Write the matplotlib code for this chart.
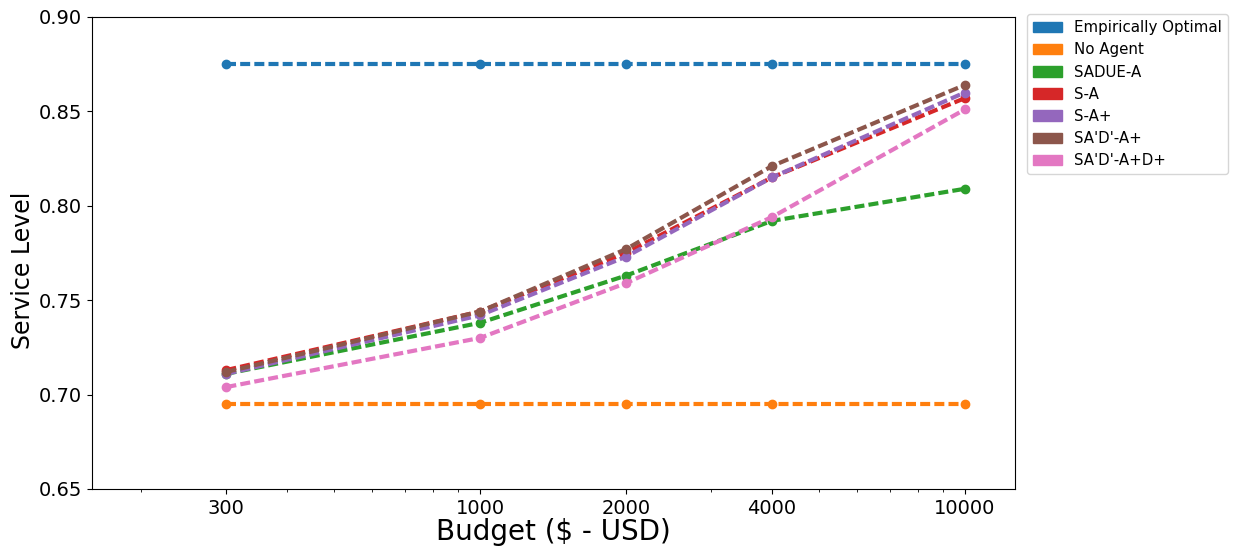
import matplotlib
matplotlib.use("Agg")
import matplotlib.pyplot as plt
from matplotlib.patches import Patch
from matplotlib.ticker import NullFormatter

# Budgets (USD) and service level per strategy
budgets = [300, 1000, 2000, 4000, 10000]
budget_labels = ["300", "1000", "2000", "4000", "10000"]

empirically_optimal = [0.875, 0.875, 0.875, 0.875, 0.875]
no_agent = [0.695, 0.695, 0.695, 0.695, 0.695]
sadue_a = [0.711, 0.738, 0.763, 0.792, 0.809]
s_a = [0.713, 0.744, 0.775, 0.815, 0.857]
s_a_plus = [0.711, 0.742, 0.773, 0.815, 0.860]
sadp_a_plus = [0.712, 0.744, 0.777, 0.821, 0.864]
sadp_a_plus_d_plus = [0.704, 0.730, 0.759, 0.794, 0.851]

series_names = ["Empirically Optimal", "No Agent", "SADUE-A", "S-A", "S-A+",
                "SA'D'-A+", "SA'D'-A+D+"]
series_values = [empirically_optimal, no_agent, sadue_a, s_a, s_a_plus,
                 sadp_a_plus, sadp_a_plus_d_plus]
colors = ["#1f77b4", "#ff7f0e", "#2ca02c", "#d62728", "#9467bd",
          "#8c564b", "#e377c2"]

fig = plt.figure(figsize=(12.36, 5.48), dpi=100)
ax = fig.add_axes([0.0745, 0.1077, 0.7468, 0.8613])

for name, vals, col in zip(series_names, series_values, colors):
    ax.plot(budgets, vals, color=col, linewidth=3, linestyle=(0, (2.4, 1.0)),
            marker="o", markersize=6, label=name)

ax.set_xscale("log")
ax.set_xlim(158.5, 12700)
ax.set_ylim(0.65, 0.90)
ax.set_xticks(budgets)
ax.set_xticklabels(budget_labels)
ax.xaxis.set_minor_formatter(NullFormatter())
ax.set_yticks([0.65, 0.70, 0.75, 0.80, 0.85, 0.90])
ax.set_yticklabels(["0.65", "0.70", "0.75", "0.80", "0.85", "0.90"])
ax.tick_params(axis="both", which="major", labelsize=14)

ax.set_ylabel("Service Level", fontsize=17, labelpad=3)
ax.yaxis.label.set_y(0.463)
ax.set_xlabel("Budget ($ - USD)", fontsize=20, labelpad=0)

handles = [Patch(facecolor=c, edgecolor=c, label=n) for n, c in zip(series_names, colors)]
ax.legend(handles=handles, loc="upper left", bbox_to_anchor=(1.013, 1.006),
          borderaxespad=0, fontsize=10.8, labelspacing=0.48,
          handlelength=1.9, handletextpad=0.85)

fig.savefig("out.png", dpi=100)
